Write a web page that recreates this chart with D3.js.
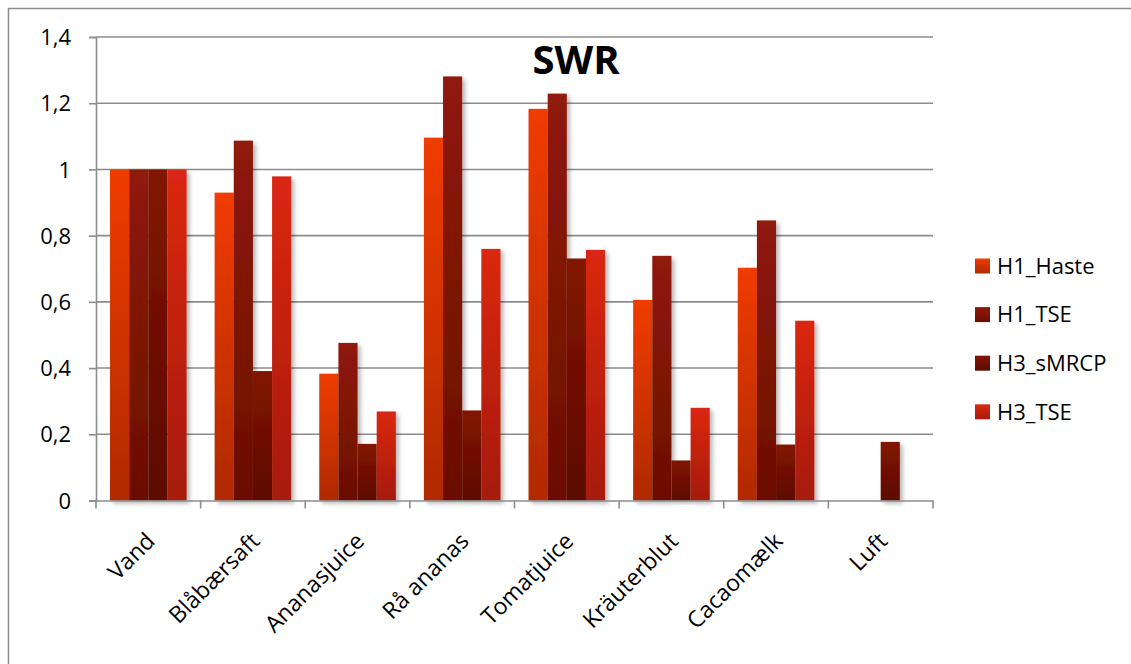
<!DOCTYPE html>
<html>
<head>
<meta charset="utf-8">
<script src="https://cdn.jsdelivr.net/npm/d3@7"></script>
<style>
  html, body { margin: 0; padding: 0; background: #fff; }
  svg { display: block; }
  text { font-family: "Open Sans", "Liberation Sans", sans-serif; fill: #000; }
</style>
</head>
<body>
<svg id="chart" width="1131" height="664"></svg>
<script>
// Categories and series
const categories = ["Vand", "Blåbærsaft", "Ananasjuice", "Rå ananas", "Tomatjuice", "Kräuterblut", "Cacaomælk", "Luft"];
const seriesNames = ["H1_Haste", "H1_TSE", "H3_sMRCP", "H3_TSE"];
const h1Haste  = [1.0, 0.930, 0.383, 1.096, 1.183, 0.606, 0.703, null];
const h1TSE    = [1.0, 1.087, 0.476, 1.281, 1.229, 0.739, 0.846, null];
const h3sMRCP  = [1.0, 0.391, 0.171, 0.272, 0.731, 0.121, 0.169, 0.177];
const h3TSE    = [1.0, 0.979, 0.269, 0.760, 0.757, 0.280, 0.543, null];
const yTickValues = [0, 0.2, 0.4, 0.6, 0.8, 1.0, 1.2, 1.4];
const yTickLabels = ["0", "0,2", "0,4", "0,6", "0,8", "1", "1,2", "1,4"];
const chartTitle = "SWR";

// gradient stops (top, bottom) per series
const seriesColors = [
  ["#f03c00", "#b02a00"],
  ["#901a08", "#6a0f04"],
  ["#821506", "#5c0b02"],
  ["#da2812", "#a61a0a"]
];

const seriesValues = [h1Haste, h1TSE, h3sMRCP, h3TSE];

const svg = d3.select("#chart");
const defs = svg.append("defs");

seriesColors.forEach((c, i) => {
  const g = defs.append("linearGradient")
    .attr("id", "grad" + i)
    .attr("x1", 0).attr("y1", 0).attr("x2", 0).attr("y2", 1);
  g.append("stop").attr("offset", "0%").attr("stop-color", c[0]);
  g.append("stop").attr("offset", "100%").attr("stop-color", c[1]);
});

const shadow = defs.append("filter").attr("id", "shadow")
  .attr("x", "-20%").attr("y", "-5%").attr("width", "160%").attr("height", "115%");
shadow.append("feDropShadow")
  .attr("dx", 3).attr("dy", 3).attr("stdDeviation", 2)
  .attr("flood-color", "#000").attr("flood-opacity", 0.28);

// outer frame
svg.append("rect")
  .attr("x", 8.5).attr("y", 8.5).attr("width", 1140).attr("height", 680)
  .attr("fill", "none").attr("stroke", "#8c8c8c").attr("stroke-width", 1.5);

const plotLeft = 96, plotRight = 933;

const x = d3.scaleBand().domain(categories).range([plotLeft, plotRight]).padding(0);
const bw = x.bandwidth();
const xs = d3.scaleBand().domain(seriesNames).range([bw * 0.134, bw * 0.866]).padding(0);
const y = d3.scaleLinear().domain([0, 1.4]).range([500.5, 37]);

// gridlines
svg.append("g").selectAll("line")
  .data(yTickValues.filter(v => v > 0))
  .join("line")
  .attr("x1", plotLeft).attr("x2", plotRight)
  .attr("y1", d => y(d)).attr("y2", d => y(d))
  .attr("stroke", "#8c8c8c").attr("stroke-width", 1.6);

// y axis
const yAxis = d3.axisLeft(y)
  .tickValues(yTickValues)
  .tickFormat((d, i) => yTickLabels[i])
  .tickSize(7).tickPadding(18);
const yg = svg.append("g").attr("transform", `translate(${plotLeft},0)`).call(yAxis);
yg.select(".domain").attr("stroke", "#8c8c8c").attr("stroke-width", 1.6);
yg.selectAll(".tick line").attr("stroke", "#8c8c8c").attr("stroke-width", 1.6);
yg.selectAll(".tick text").style("font-size", "22px").attr("dy", "0.35em");

// bars
const groups = svg.append("g").selectAll("g")
  .data(categories)
  .join("g")
  .attr("transform", d => `translate(${x(d)},0)`);

groups.selectAll("rect")
  .data((c, ci) => seriesNames.map((s, si) => ({ s, si, v: seriesValues[si][ci] })).filter(d => d.v != null))
  .join("rect")
  .attr("x", d => xs(d.s))
  .attr("width", xs.bandwidth())
  .attr("y", d => y(d.v))
  .attr("height", d => y(0) - y(d.v))
  .attr("fill", d => `url(#grad${d.si})`)
  .attr("filter", "url(#shadow)");

// x axis
const xAxis = d3.axisBottom(x).tickSize(0).tickFormat(d => d);
const xg = svg.append("g").attr("transform", `translate(0,${y(0)})`).call(xAxis);
xg.select(".domain").attr("stroke", "#8c8c8c").attr("stroke-width", 1.6);
xg.selectAll(".tick text")
  .style("font-size", "23px")
  .attr("text-anchor", "end")
  .attr("dy", 0)
  .attr("transform", "translate(8,42) rotate(-45)")
  .attr("y", 0).attr("x", 0);
// category boundary ticks
svg.append("g").selectAll("line")
  .data(d3.range(categories.length + 1))
  .join("line")
  .attr("x1", i => plotLeft + i * bw).attr("x2", i => plotLeft + i * bw)
  .attr("y1", y(0)).attr("y2", y(0) + 8)
  .attr("stroke", "#8c8c8c").attr("stroke-width", 1.6);

// title
svg.append("text")
  .attr("x", 576).attr("y", 74)
  .attr("text-anchor", "middle")
  .style("font-size", "40px").style("font-weight", "bold")
  .text(chartTitle);

// legend
const legend = svg.append("g").selectAll("g")
  .data(seriesNames)
  .join("g")
  .attr("transform", (d, i) => `translate(975,${266 + i * 48.6})`);
legend.append("rect")
  .attr("x", 0).attr("y", -7.5).attr("width", 15).attr("height", 15)
  .attr("fill", (d, i) => `url(#grad${i})`);
legend.append("text")
  .attr("x", 22).attr("y", 0).attr("dy", "0.35em")
  .style("font-size", "22px")
  .text(d => d);
</script>
</body>
</html>
